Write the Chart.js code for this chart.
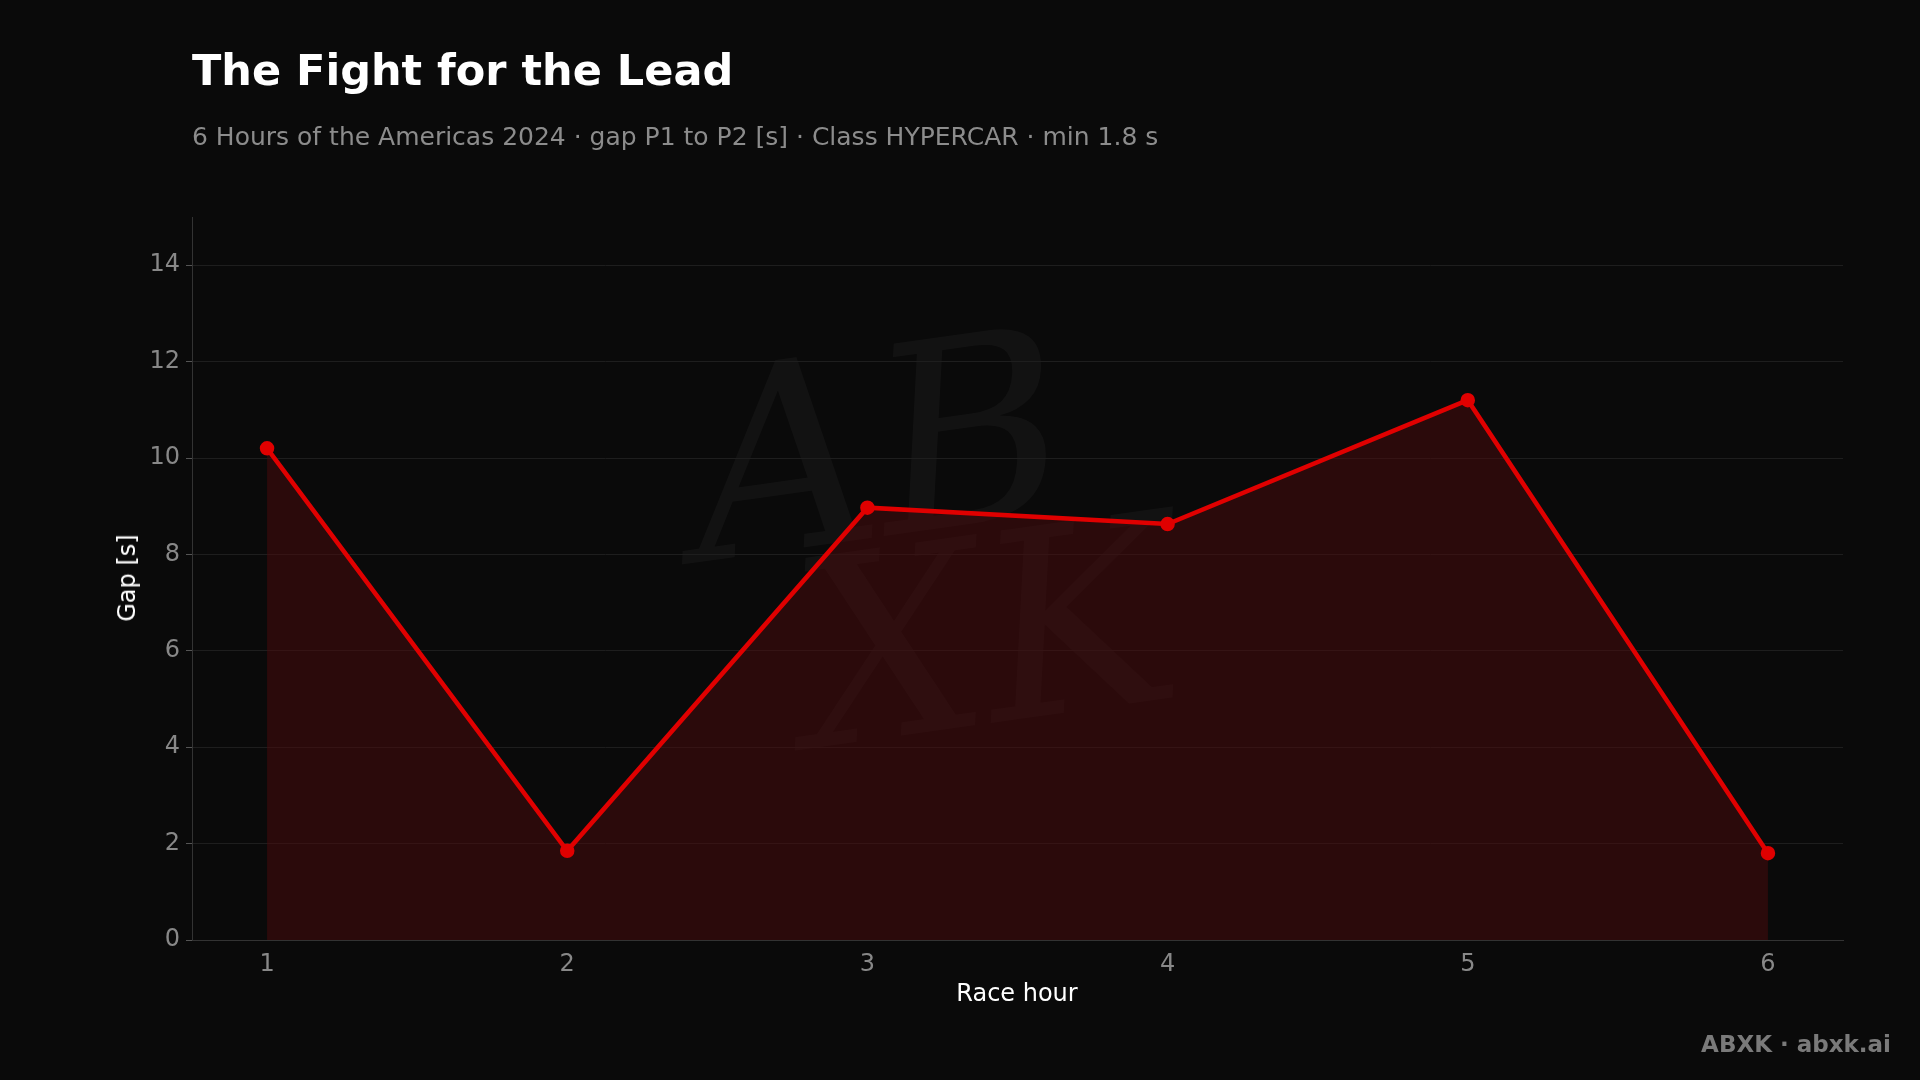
<!DOCTYPE html>
<html><head><meta charset="utf-8">
<script src="https://cdn.jsdelivr.net/npm/chart.js@4/dist/chart.umd.min.js"></script>
<style>
html,body{margin:0;padding:0;background:#0a0a0a;width:1920px;height:1080px;overflow:hidden;font-family:"DejaVu Sans",sans-serif}
#c{position:absolute;left:0;top:0}
.t{position:absolute;left:192px;top:45px;color:#fff;font-weight:bold;font-size:43px}
.s{position:absolute;left:192px;top:122px;color:#8c8c8c;font-size:25px}
.f{position:absolute;right:29px;top:1031px;color:#7a7a7a;font-weight:bold;font-size:23px}
.xt{position:absolute;left:0;width:2034px;text-align:center;top:979px;color:#fff;font-size:24px}
.yt{position:absolute;left:127px;top:578px;color:#fff;font-size:24px;transform:translate(-50%,-50%) rotate(-90deg);white-space:nowrap}
.w{position:absolute;left:700px;top:330px;color:rgba(255,255,255,0.035);font-family:"DejaVu Serif",serif;font-style:italic;font-size:260px;line-height:200px;width:600px;transform:rotate(-8deg)}
</style></head><body>
<div class="w">AB<br>&nbsp;XK</div>
<canvas id="c" width="1920" height="1080"></canvas>
<div class="t">The Fight for the Lead</div>
<div class="s">6 Hours of the Americas 2024 · gap P1 to P2 [s] · Class HYPERCAR · min 1.8 s</div>
<div class="xt">Race hour</div>
<div class="yt">Gap [s]</div>
<div class="f">ABXK · abxk.ai</div>
<script>
const hours=[1,2,3,4,5,6];
const gaps=[10.2,1.85,8.97,8.63,11.2,1.8];
const yTicks=[0,2,4,6,8,10,12,14];
new Chart(document.getElementById('c'),{
type:'line',
data:{datasets:[{data:hours.map((h,i)=>({x:h,y:gaps[i]})),borderColor:'#e00000',borderWidth:4.5,
 pointBackgroundColor:'#e00000',pointBorderColor:'#e00000',pointRadius:5,fill:'origin',
 backgroundColor:'rgba(75,10,12,0.5)',tension:0}]},
options:{responsive:false,animation:false,
 layout:{padding:{left:0,top:217,right:77,bottom:0}},
 plugins:{legend:{display:false},tooltip:{enabled:false}},
 scales:{
  x:{type:'linear',min:0.75,max:6.25,afterBuildTicks:s=>{s.ticks=hours.map(v=>({value:v}))},
   grid:{display:false,drawTicks:true,tickColor:'#555',tickLength:6},border:{color:'#333'},
   ticks:{color:'#888',font:{size:24,family:'DejaVu Sans'},padding:4},
   afterFit:s=>{s.height=140}},
  y:{min:0,max:15,afterBuildTicks:s=>{s.ticks=yTicks.map(v=>({value:v}))},
   grid:{color:'#1e1e1e',tickColor:'#555',tickLength:6},border:{color:'#333'},
   ticks:{color:'#888',font:{size:24,family:'DejaVu Sans'},padding:6},
   afterFit:s=>{s.width=192}}
 }}
});
</script></body></html>
